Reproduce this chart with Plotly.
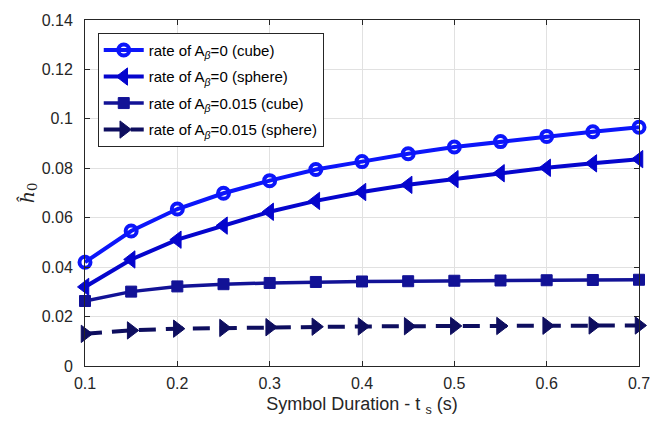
import plotly.graph_objects as go

# Symbol duration t_s (s)
t_s = [0.10, 0.15, 0.20, 0.25, 0.30, 0.35, 0.40, 0.45, 0.50, 0.55, 0.60, 0.65, 0.70]

# Estimated h0 for each configuration
h_cube_0 = [0.0420, 0.0546, 0.0635, 0.0699, 0.0750, 0.0795, 0.0827, 0.0859, 0.0886, 0.0908, 0.0929, 0.0948, 0.0966]
h_sphere_0 = [0.0320, 0.0431, 0.0511, 0.0568, 0.0624, 0.0668, 0.0704, 0.0733, 0.0756, 0.0780, 0.0802, 0.0820, 0.0837]
h_cube_015 = [0.0263, 0.0301, 0.0322, 0.0331, 0.0336, 0.0340, 0.0342, 0.0343, 0.0345, 0.0346, 0.0347, 0.0348, 0.0349]
h_sphere_015 = [0.0130, 0.0144, 0.0151, 0.0154, 0.0157, 0.0159, 0.0160, 0.0161, 0.0162, 0.0162, 0.0163, 0.0164, 0.0164]

legend_names = [
    "rate of A<sub><i>β</i></sub>=0 (cube)",
    "rate of A<sub><i>β</i></sub>=0 (sphere)",
    "rate of A<sub><i>β</i></sub>=0.015 (cube)",
    "rate of A<sub><i>β</i></sub>=0.015 (sphere)",
]

y_ticks = [0, 0.02, 0.04, 0.06, 0.08, 0.10, 0.12, 0.14]
y_tick_labels = ["0", "0.02", "0.04", "0.06", "0.08", "0.1", "0.12", "0.14"]
x_ticks = [0.1, 0.2, 0.3, 0.4, 0.5, 0.6, 0.7]
x_tick_labels = ["0.1", "0.2", "0.3", "0.4", "0.5", "0.6", "0.7"]

FONT = "Liberation Sans, Arial, sans-serif"
TEXT = "rgb(38,38,38)"

styles = [
    dict(color="rgb(12,22,250)", symbol="circle-open", size=11, lw=4, mlw=4, dash="solid"),
    dict(color="rgb(5,5,205)", symbol="triangle-left", size=15, lw=4, mlw=1, dash="solid"),
    dict(color="rgb(18,18,150)", symbol="square", size=11, lw=3.5, mlw=1, dash="solid"),
    dict(color="rgb(14,14,95)", symbol="triangle-right", size=15, lw=4, mlw=1, dash="17px,10px"),
]

series = [h_cube_0, h_sphere_0, h_cube_015, h_sphere_015]

fig = go.Figure()
for i, (name, ys, st) in enumerate(zip(legend_names, series, styles)):
    fig.add_trace(go.Scatter(
        x=t_s, y=ys, name=name, mode="lines+markers", legendgroup=f"g{i}",
        line=dict(color=st["color"], width=st["lw"], dash=st["dash"]),
        marker=dict(symbol=st["symbol"], size=st["size"], color=st["color"],
                    line=dict(color=st["color"], width=st["mlw"])),
        cliponaxis=False,
    ))

axis_common = dict(
    showline=True, linecolor=TEXT, linewidth=1, mirror="ticks",
    ticks="inside", ticklen=5, tickcolor=TEXT,
    showgrid=True, gridcolor="rgb(225,225,225)", gridwidth=1,
    zeroline=False,
    tickfont=dict(family=FONT, size=16, color=TEXT),
)

fig.update_xaxes(
    range=[0.1, 0.7], tickvals=x_ticks, ticktext=x_tick_labels,
    ticklabelstandoff=3,
    title=dict(text="Symbol Duration - t <sub>s</sub> (s)",
               font=dict(family=FONT, size=18, color=TEXT), standoff=6),
    **axis_common,
)
fig.update_yaxes(
    range=[0, 0.14], tickvals=y_ticks, ticktext=y_tick_labels,
    ticklabelstandoff=8,
    title=dict(text="<i>ĥ</i><sub>0</sub>",
               font=dict(family="DejaVu Serif, serif", size=19, color=TEXT), standoff=2),
    **axis_common,
)

fig.update_layout(
    width=664, height=423,
    margin=dict(l=85, r=25, t=16, b=57),
    paper_bgcolor="white", plot_bgcolor="white",
    showlegend=True,
    legend=dict(
        x=0.023, y=0.963, xanchor="left", yanchor="top",
        bgcolor="white", bordercolor=TEXT, borderwidth=1,
        font=dict(family=FONT, size=15, color="black"),
        tracegroupgap=4, itemwidth=40,
    ),
)

fig.write_html("out.html")
